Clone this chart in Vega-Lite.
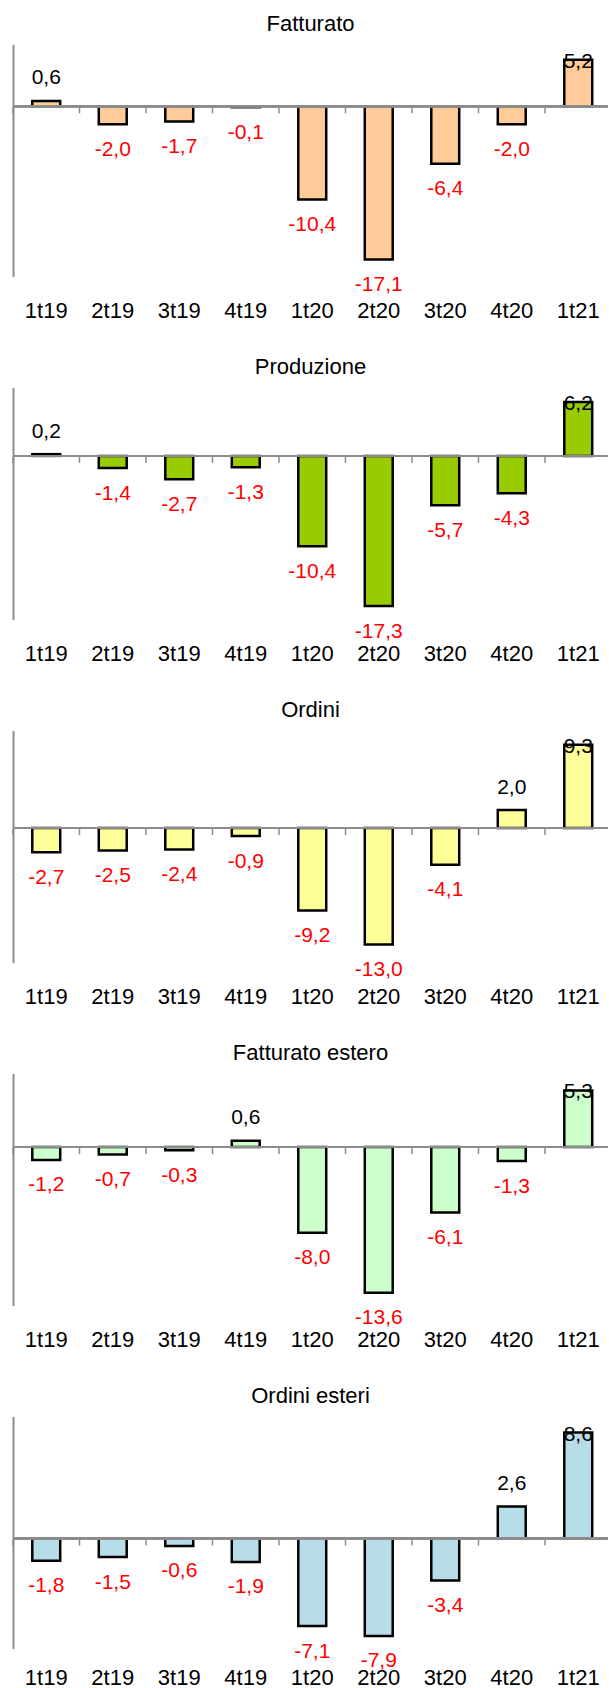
{
  "$schema": "https://vega.github.io/schema/vega-lite/v6.json",
  "padding": {"left": 12, "top": 12.5, "right": 0, "bottom": 0},
  "background": "white",
  "config": {
    "view": {"stroke": null},
    "font": "Liberation Sans",
    "locale": {"number": {"decimal": ",", "thousands": ".", "grouping": [3], "currency": ["€", ""], "minus": "-"}},
    "title": {"font": "Liberation Sans", "fontSize": 22, "fontWeight": "normal", "color": "#000000", "anchor": "middle", "baseline": "middle", "offset": 8.5},
    "axisY": {"title": null, "labels": false, "ticks": false, "grid": false, "domain": true, "domainColor": "#8c8c8c", "domainWidth": 2},
    "axisX": {"title": null, "domain": false, "ticks": true, "tickSize": 6, "tickOpacity": 0, "labelFont": "Liberation Sans", "labelFontSize": 22, "labelColor": "#000000", "labelAngle": 0, "labelBaseline": "middle", "grid": false}
  },
  "datasets": {
    "d": [
      {"serie": "Fatturato", "q": "1t19", "v": 0.6},
      {"serie": "Fatturato", "q": "2t19", "v": -2.0},
      {"serie": "Fatturato", "q": "3t19", "v": -1.7},
      {"serie": "Fatturato", "q": "4t19", "v": -0.1},
      {"serie": "Fatturato", "q": "1t20", "v": -10.4},
      {"serie": "Fatturato", "q": "2t20", "v": -17.1},
      {"serie": "Fatturato", "q": "3t20", "v": -6.4},
      {"serie": "Fatturato", "q": "4t20", "v": -2.0},
      {"serie": "Fatturato", "q": "1t21", "v": 5.2},
      {"serie": "Produzione", "q": "1t19", "v": 0.2},
      {"serie": "Produzione", "q": "2t19", "v": -1.4},
      {"serie": "Produzione", "q": "3t19", "v": -2.7},
      {"serie": "Produzione", "q": "4t19", "v": -1.3},
      {"serie": "Produzione", "q": "1t20", "v": -10.4},
      {"serie": "Produzione", "q": "2t20", "v": -17.3},
      {"serie": "Produzione", "q": "3t20", "v": -5.7},
      {"serie": "Produzione", "q": "4t20", "v": -4.3},
      {"serie": "Produzione", "q": "1t21", "v": 6.2},
      {"serie": "Ordini", "q": "1t19", "v": -2.7},
      {"serie": "Ordini", "q": "2t19", "v": -2.5},
      {"serie": "Ordini", "q": "3t19", "v": -2.4},
      {"serie": "Ordini", "q": "4t19", "v": -0.9},
      {"serie": "Ordini", "q": "1t20", "v": -9.2},
      {"serie": "Ordini", "q": "2t20", "v": -13.0},
      {"serie": "Ordini", "q": "3t20", "v": -4.1},
      {"serie": "Ordini", "q": "4t20", "v": 2.0},
      {"serie": "Ordini", "q": "1t21", "v": 9.3},
      {"serie": "Fatturato estero", "q": "1t19", "v": -1.2},
      {"serie": "Fatturato estero", "q": "2t19", "v": -0.7},
      {"serie": "Fatturato estero", "q": "3t19", "v": -0.3},
      {"serie": "Fatturato estero", "q": "4t19", "v": 0.6},
      {"serie": "Fatturato estero", "q": "1t20", "v": -8.0},
      {"serie": "Fatturato estero", "q": "2t20", "v": -13.6},
      {"serie": "Fatturato estero", "q": "3t20", "v": -6.1},
      {"serie": "Fatturato estero", "q": "4t20", "v": -1.3},
      {"serie": "Fatturato estero", "q": "1t21", "v": 5.3},
      {"serie": "Ordini esteri", "q": "1t19", "v": -1.8},
      {"serie": "Ordini esteri", "q": "2t19", "v": -1.5},
      {"serie": "Ordini esteri", "q": "3t19", "v": -0.6},
      {"serie": "Ordini esteri", "q": "4t19", "v": -1.9},
      {"serie": "Ordini esteri", "q": "1t20", "v": -7.1},
      {"serie": "Ordini esteri", "q": "2t20", "v": -7.9},
      {"serie": "Ordini esteri", "q": "3t20", "v": -3.4},
      {"serie": "Ordini esteri", "q": "4t20", "v": 2.6},
      {"serie": "Ordini esteri", "q": "1t21", "v": 8.6}
    ]
  },
  "data": {"name": "d"},
  "spacing": 111,
  "bounds": "flush",
  "vconcat": [
    {
      "title": "Fatturato",
      "width": 595, "height": 232,
      "transform": [{"filter": "datum.serie == 'Fatturato'"}],
      "layer": [
        {"mark": {"type": "bar", "fill": "#FFCC99", "stroke": "#000000", "strokeWidth": 2.5},
         "encoding": {
           "x": {"field": "q", "type": "nominal", "sort": null, "scale": {"range": [0, 598.5], "paddingInner": 0.58, "paddingOuter": 0.29}, "axis": {"offset": -170.2, "labelPadding": 198.5}},
           "y": {"field": "v", "type": "quantitative", "scale": {"domain": [-19.0, 6.9], "nice": false, "zero": false}}}},
        {"mark": {"type": "rule", "color": "#8c8c8c", "strokeWidth": 2}, "encoding": {"y": {"datum": 0}}},
        {"mark": {"type": "tick", "orient": "vertical", "size": 6, "thickness": 1.5, "color": "#8c8c8c", "opacity": 1, "xOffset": -19.3, "yOffset": 4},
         "encoding": {"x": {"field": "q", "type": "nominal", "sort": null, "bandPosition": 0}, "y": {"datum": 0}}},
        {"transform": [{"filter": "datum.v >= 0 && datum.q != '1t21'"}],
         "mark": {"type": "text", "color": "#000000", "fontSize": 21, "baseline": "middle", "dy": -22.5},
         "encoding": {"x": {"field": "q", "type": "nominal", "sort": null}, "y": {"field": "v", "type": "quantitative"}, "text": {"field": "v", "type": "quantitative", "format": ".1f"}}},
        {"transform": [{"filter": "datum.v < 0"}],
         "mark": {"type": "text", "color": "#FF0000", "fontSize": 21, "baseline": "middle", "dy": 25.5},
         "encoding": {"x": {"field": "q", "type": "nominal", "sort": null}, "y": {"field": "v", "type": "quantitative"}, "text": {"field": "v", "type": "quantitative", "format": ".1f"}}},
        {"transform": [{"filter": "datum.q == '1t21'"}],
         "mark": {"type": "text", "color": "#000000", "fontSize": 21, "baseline": "middle", "dy": 2},
         "encoding": {"x": {"field": "q", "type": "nominal", "sort": null}, "y": {"field": "v", "type": "quantitative"}, "text": {"field": "v", "type": "quantitative", "format": ".1f"}}}
      ]
    },
    {
      "title": "Produzione",
      "width": 595, "height": 232,
      "transform": [{"filter": "datum.serie == 'Produzione'"}],
      "layer": [
        {"mark": {"type": "bar", "fill": "#99CC00", "stroke": "#000000", "strokeWidth": 2.5},
         "encoding": {
           "x": {"field": "q", "type": "nominal", "sort": null, "scale": {"range": [0, 598.5], "paddingInner": 0.58, "paddingOuter": 0.29}, "axis": {"offset": -163.6, "labelPadding": 191.9}},
           "y": {"field": "v", "type": "quantitative", "scale": {"domain": [-18.85, 7.88], "nice": false, "zero": false}}}},
        {"mark": {"type": "rule", "color": "#8c8c8c", "strokeWidth": 2}, "encoding": {"y": {"datum": 0}}},
        {"mark": {"type": "tick", "orient": "vertical", "size": 6, "thickness": 1.5, "color": "#8c8c8c", "opacity": 1, "xOffset": -19.3, "yOffset": 4},
         "encoding": {"x": {"field": "q", "type": "nominal", "sort": null, "bandPosition": 0}, "y": {"datum": 0}}},
        {"transform": [{"filter": "datum.v >= 0 && datum.q != '1t21'"}],
         "mark": {"type": "text", "color": "#000000", "fontSize": 21, "baseline": "middle", "dy": -22.5},
         "encoding": {"x": {"field": "q", "type": "nominal", "sort": null}, "y": {"field": "v", "type": "quantitative"}, "text": {"field": "v", "type": "quantitative", "format": ".1f"}}},
        {"transform": [{"filter": "datum.v < 0"}],
         "mark": {"type": "text", "color": "#FF0000", "fontSize": 21, "baseline": "middle", "dy": 25.5},
         "encoding": {"x": {"field": "q", "type": "nominal", "sort": null}, "y": {"field": "v", "type": "quantitative"}, "text": {"field": "v", "type": "quantitative", "format": ".1f"}}},
        {"transform": [{"filter": "datum.q == '1t21'"}],
         "mark": {"type": "text", "color": "#000000", "fontSize": 21, "baseline": "middle", "dy": 2},
         "encoding": {"x": {"field": "q", "type": "nominal", "sort": null}, "y": {"field": "v", "type": "quantitative"}, "text": {"field": "v", "type": "quantitative", "format": ".1f"}}}
      ]
    },
    {
      "title": "Ordini",
      "width": 595, "height": 232,
      "transform": [{"filter": "datum.serie == 'Ordini'"}],
      "layer": [
        {"mark": {"type": "bar", "fill": "#FFFF99", "stroke": "#000000", "strokeWidth": 2.5},
         "encoding": {
           "x": {"field": "q", "type": "nominal", "sort": null, "scale": {"range": [0, 598.5], "paddingInner": 0.58, "paddingOuter": 0.29}, "axis": {"offset": -134.5, "labelPadding": 162.8}},
           "y": {"field": "v", "type": "quantitative", "scale": {"domain": [-15.0, 10.88], "nice": false, "zero": false}}}},
        {"mark": {"type": "rule", "color": "#8c8c8c", "strokeWidth": 2}, "encoding": {"y": {"datum": 0}}},
        {"mark": {"type": "tick", "orient": "vertical", "size": 6, "thickness": 1.5, "color": "#8c8c8c", "opacity": 1, "xOffset": -19.3, "yOffset": 4},
         "encoding": {"x": {"field": "q", "type": "nominal", "sort": null, "bandPosition": 0}, "y": {"datum": 0}}},
        {"transform": [{"filter": "datum.v >= 0 && datum.q != '1t21'"}],
         "mark": {"type": "text", "color": "#000000", "fontSize": 21, "baseline": "middle", "dy": -22.5},
         "encoding": {"x": {"field": "q", "type": "nominal", "sort": null}, "y": {"field": "v", "type": "quantitative"}, "text": {"field": "v", "type": "quantitative", "format": ".1f"}}},
        {"transform": [{"filter": "datum.v < 0"}],
         "mark": {"type": "text", "color": "#FF0000", "fontSize": 21, "baseline": "middle", "dy": 25.5},
         "encoding": {"x": {"field": "q", "type": "nominal", "sort": null}, "y": {"field": "v", "type": "quantitative"}, "text": {"field": "v", "type": "quantitative", "format": ".1f"}}},
        {"transform": [{"filter": "datum.q == '1t21'"}],
         "mark": {"type": "text", "color": "#000000", "fontSize": 21, "baseline": "middle", "dy": 2},
         "encoding": {"x": {"field": "q", "type": "nominal", "sort": null}, "y": {"field": "v", "type": "quantitative"}, "text": {"field": "v", "type": "quantitative", "format": ".1f"}}}
      ]
    },
    {
      "title": "Fatturato estero",
      "width": 595, "height": 232,
      "transform": [{"filter": "datum.serie == 'Fatturato estero'"}],
      "layer": [
        {"mark": {"type": "bar", "fill": "#CCFFCC", "stroke": "#000000", "strokeWidth": 2.5},
         "encoding": {
           "x": {"field": "q", "type": "nominal", "sort": null, "scale": {"range": [0, 598.5], "paddingInner": 0.58, "paddingOuter": 0.29}, "axis": {"offset": -158.4, "labelPadding": 186.7}},
           "y": {"field": "v", "type": "quantitative", "scale": {"domain": [-14.8, 6.88], "nice": false, "zero": false}}}},
        {"mark": {"type": "rule", "color": "#8c8c8c", "strokeWidth": 2}, "encoding": {"y": {"datum": 0}}},
        {"mark": {"type": "tick", "orient": "vertical", "size": 6, "thickness": 1.5, "color": "#8c8c8c", "opacity": 1, "xOffset": -19.3, "yOffset": 4},
         "encoding": {"x": {"field": "q", "type": "nominal", "sort": null, "bandPosition": 0}, "y": {"datum": 0}}},
        {"transform": [{"filter": "datum.v >= 0 && datum.q != '1t21'"}],
         "mark": {"type": "text", "color": "#000000", "fontSize": 21, "baseline": "middle", "dy": -22.5},
         "encoding": {"x": {"field": "q", "type": "nominal", "sort": null}, "y": {"field": "v", "type": "quantitative"}, "text": {"field": "v", "type": "quantitative", "format": ".1f"}}},
        {"transform": [{"filter": "datum.v < 0"}],
         "mark": {"type": "text", "color": "#FF0000", "fontSize": 21, "baseline": "middle", "dy": 25.5},
         "encoding": {"x": {"field": "q", "type": "nominal", "sort": null}, "y": {"field": "v", "type": "quantitative"}, "text": {"field": "v", "type": "quantitative", "format": ".1f"}}},
        {"transform": [{"filter": "datum.q == '1t21'"}],
         "mark": {"type": "text", "color": "#000000", "fontSize": 21, "baseline": "middle", "dy": 2},
         "encoding": {"x": {"field": "q", "type": "nominal", "sort": null}, "y": {"field": "v", "type": "quantitative"}, "text": {"field": "v", "type": "quantitative", "format": ".1f"}}}
      ]
    },
    {
      "title": "Ordini esteri",
      "width": 595, "height": 232,
      "transform": [{"filter": "datum.serie == 'Ordini esteri'"}],
      "layer": [
        {"mark": {"type": "bar", "fill": "#B7DDE8", "stroke": "#000000", "strokeWidth": 2.5},
         "encoding": {
           "x": {"field": "q", "type": "nominal", "sort": null, "scale": {"range": [0, 598.5], "paddingInner": 0.58, "paddingOuter": 0.29}, "axis": {"offset": -110.0, "labelPadding": 132.5}},
           "y": {"field": "v", "type": "quantitative", "scale": {"domain": [-8.92, 9.9], "nice": false, "zero": false}}}},
        {"mark": {"type": "rule", "color": "#8c8c8c", "strokeWidth": 2}, "encoding": {"y": {"datum": 0}}},
        {"mark": {"type": "tick", "orient": "vertical", "size": 6, "thickness": 1.5, "color": "#8c8c8c", "opacity": 1, "xOffset": -19.3, "yOffset": 4},
         "encoding": {"x": {"field": "q", "type": "nominal", "sort": null, "bandPosition": 0}, "y": {"datum": 0}}},
        {"transform": [{"filter": "datum.v >= 0 && datum.q != '1t21'"}],
         "mark": {"type": "text", "color": "#000000", "fontSize": 21, "baseline": "middle", "dy": -22.5},
         "encoding": {"x": {"field": "q", "type": "nominal", "sort": null}, "y": {"field": "v", "type": "quantitative"}, "text": {"field": "v", "type": "quantitative", "format": ".1f"}}},
        {"transform": [{"filter": "datum.v < 0"}],
         "mark": {"type": "text", "color": "#FF0000", "fontSize": 21, "baseline": "middle", "dy": 25.5},
         "encoding": {"x": {"field": "q", "type": "nominal", "sort": null}, "y": {"field": "v", "type": "quantitative"}, "text": {"field": "v", "type": "quantitative", "format": ".1f"}}},
        {"transform": [{"filter": "datum.q == '1t21'"}],
         "mark": {"type": "text", "color": "#000000", "fontSize": 21, "baseline": "middle", "dy": 2},
         "encoding": {"x": {"field": "q", "type": "nominal", "sort": null}, "y": {"field": "v", "type": "quantitative"}, "text": {"field": "v", "type": "quantitative", "format": ".1f"}}}
      ]
    }
  ]
}
